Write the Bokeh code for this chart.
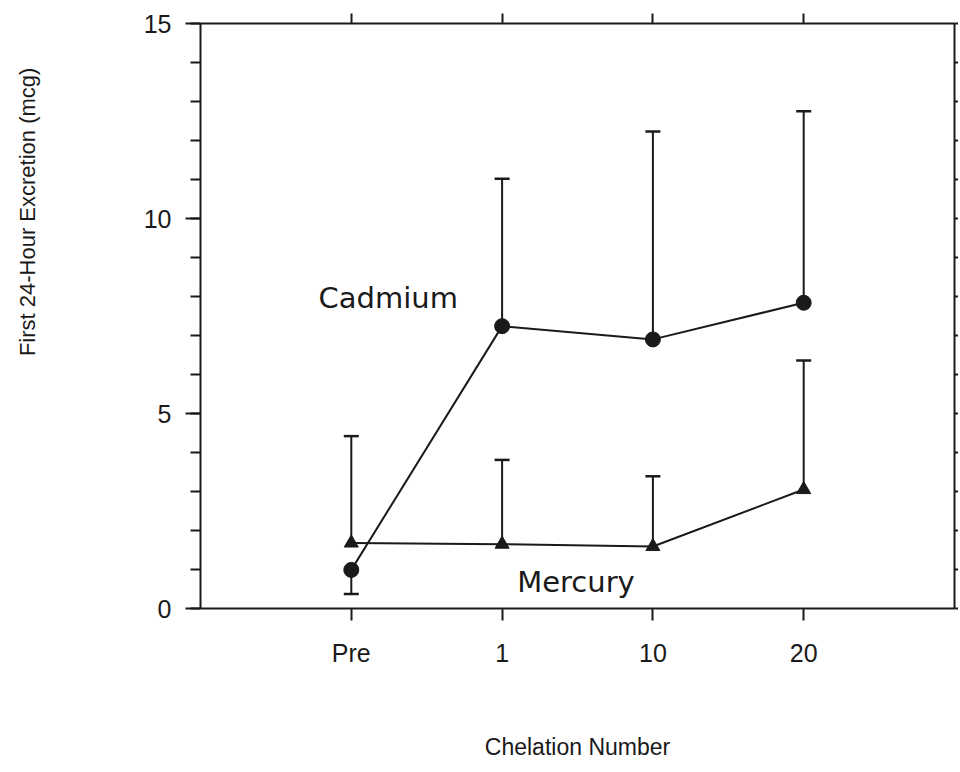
from bokeh.plotting import figure
from bokeh.layouts import row
from bokeh.models import LinearAxis, FixedTicker, Label, Whisker, ColumnDataSource, TeeHead, Range1d
from bokeh.embed import file_html
from bokeh.resources import INLINE
import math

# ---- data ----
categories = ["Pre", "1", "10", "20"]
cadmium = [0.99, 7.24, 6.90, 7.84]
cadmium_bar_end = [0.37, 11.02, 12.23, 12.75]   # end of drawn SD bar (Pre drawn downward)
mercury = [1.68, 1.65, 1.59, 3.05]
mercury_bar_end = [4.42, 3.81, 3.39, 6.36]
y_ticks_major = [0, 5, 10, 15]
y_ticks_minor = list(range(0, 16))

xs = list(range(1, len(categories) + 1))

INK = "#1a1a1a"
SANS = "Liberation Sans"
WIDE = "DejaVu Sans"

SIDE_W = 45
TOP = 23
FRAME_H = 585

p = figure(frame_width=754, frame_height=FRAME_H,
           x_range=Range1d(0, 5), y_range=Range1d(0, 15),
           output_backend="svg", toolbar_location=None,
           min_border_left=200 - SIDE_W, min_border_top=TOP, min_border_right=0,
           min_border_bottom=140, background_fill_color="white",
           border_fill_color="white", outline_line_color=None)
p.xgrid.visible = False
p.ygrid.visible = False

# bottom axis
xa = p.xaxis[0]
xa.ticker = FixedTicker(ticks=xs)
xa.major_label_overrides = {x: c for x, c in zip(xs, categories)}
xa.major_tick_out = 12
xa.major_tick_in = 0
xa.minor_tick_out = 0
xa.major_label_standoff = 18
xa.major_label_text_font = SANS
xa.major_label_text_font_size = "25px"
xa.major_label_text_color = INK
xa.axis_label = "Chelation Number"
xa.axis_label_text_font = SANS
xa.axis_label_text_font_size = "23px"
xa.axis_label_text_font_style = "normal"
xa.axis_label_text_color = INK
xa.axis_label_standoff = 64
xa.axis_line_width = 2
xa.axis_line_color = INK
xa.major_tick_line_width = 2
xa.major_tick_line_color = INK

# left axis
ya = p.yaxis[0]
ya.ticker = FixedTicker(ticks=y_ticks_major, minor_ticks=y_ticks_minor)
ya.major_tick_out = 15
ya.major_tick_in = 0
ya.minor_tick_out = 10
ya.minor_tick_in = 0
ya.major_label_standoff = 14
ya.major_label_text_font = SANS
ya.major_label_text_font_size = "25px"
ya.major_label_text_color = INK
ya.axis_line_width = 2
ya.axis_line_color = INK
ya.major_tick_line_width = 2
ya.minor_tick_line_width = 2
ya.major_tick_line_color = INK
ya.minor_tick_line_color = INK

# top axis
ta = LinearAxis(ticker=FixedTicker(ticks=xs),
                major_label_overrides={x: "" for x in xs},
                major_tick_out=10, major_tick_in=0, minor_tick_out=0,
                major_label_standoff=0, axis_line_width=2, axis_line_color=INK,
                major_tick_line_width=2, major_tick_line_color=INK)
p.add_layout(ta, "above")

# right axis
ra = LinearAxis(ticker=FixedTicker(ticks=y_ticks_minor),
                major_label_overrides={t: "" for t in y_ticks_minor},
                major_tick_out=4, major_tick_in=0, minor_tick_out=0,
                major_label_standoff=0, axis_line_width=2, axis_line_color=INK,
                major_tick_line_width=2, major_tick_line_color=INK)
p.add_layout(ra, "right")

# error bars
src_c = ColumnDataSource(dict(x=xs, base=cadmium, end=cadmium_bar_end))
src_m = ColumnDataSource(dict(x=xs, base=mercury, end=mercury_bar_end))
for src in (src_c, src_m):
    w = Whisker(source=src, base="x", lower="base", upper="end", dimension="height",
                line_color=INK, line_width=2,
                lower_head=None,
                upper_head=TeeHead(size=15, line_color=INK, line_width=2.5))
    p.add_layout(w)

# lines and markers
p.line(xs, cadmium, line_color=INK, line_width=2)
p.scatter(xs, cadmium, marker="circle", size=15, fill_color=INK, line_color=INK)
p.line(xs, mercury, line_color=INK, line_width=2)
p.scatter(xs, mercury, marker="triangle", size=14, fill_color=INK, line_color=INK)

# series labels
p.add_layout(Label(x=1.245, y=7.96, text="Cadmium", text_align="center",
                   text_baseline="middle", text_font=WIDE, text_font_size="29px",
                   text_color=INK))
p.add_layout(Label(x=2.49, y=0.67, text="Mercury", text_align="center",
                   text_baseline="middle", text_font=WIDE, text_font_size="29px",
                   text_color=INK))

# narrow side panel carrying the y-axis title (off-centre, as in the original)
side = figure(frame_width=SIDE_W, frame_height=FRAME_H,
              x_range=Range1d(0, 1), y_range=p.y_range,
              x_axis_type=None, y_axis_type=None,
              output_backend="svg", toolbar_location=None,
              min_border_left=0, min_border_right=0, min_border_top=TOP,
              min_border_bottom=0, outline_line_color=None,
              background_fill_color="white", border_fill_color="white")
side.xgrid.visible = False
side.ygrid.visible = False
side.add_layout(Label(x=0.6, y=10.17, text="First 24-Hour Excretion (mcg)",
                      angle=math.pi / 2, text_align="center", text_baseline="middle",
                      text_font=SANS, text_font_size="22px", text_color=INK))

layout = row(side, p, spacing=0)
open("out.html", "w").write(file_html(layout, INLINE))
